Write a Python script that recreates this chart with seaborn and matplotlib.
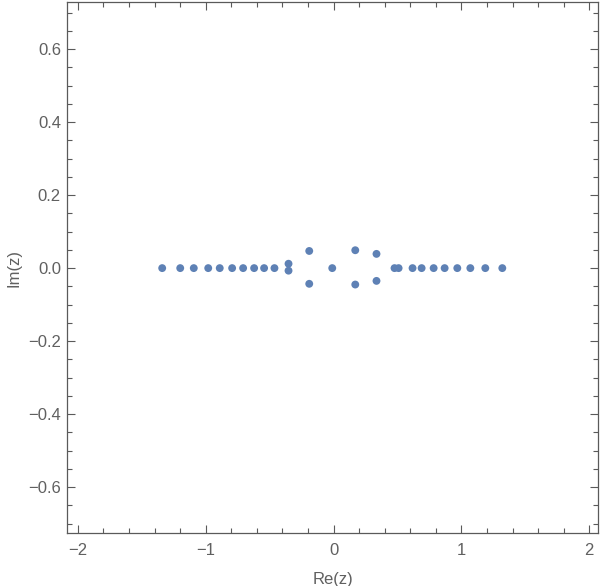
import matplotlib
matplotlib.use("Agg")
import matplotlib.pyplot as plt
import seaborn as sns
import pandas as pd
from matplotlib.ticker import MultipleLocator

# roots
re_vals = [-1.340, -1.199, -1.093, -0.980, -0.890, -0.793, -0.707, -0.621, -0.543, -0.462,
           -0.352, -0.352, -0.190, -0.190, -0.010,
           0.170, 0.170, 0.336, 0.336, 0.477, 0.509,
           0.618, 0.689, 0.783, 0.869, 0.968, 1.070, 1.187, 1.320]
im_vals = [0.0, 0.0, 0.0, 0.0, 0.0, 0.0, 0.0, 0.0, 0.0, 0.0,
           0.012, -0.007, 0.047, -0.043, 0.0,
           0.049, -0.045, 0.039, -0.035, 0.0, 0.0,
           0.0, 0.0, 0.0, 0.0, 0.0, 0.0, 0.0, 0.0]

x_ticks = [-2, -1, 0, 1, 2]
y_ticks = [-0.6, -0.4, -0.2, 0.0, 0.2, 0.4, 0.6]

df = pd.DataFrame({"re": re_vals, "im": im_vals})

sns.set_style("ticks")
plt.rcParams["font.family"] = ["Liberation Sans", "DejaVu Sans"]

frame_color = "#5a5a5a"
text_color = "#606060"

fig = plt.figure(figsize=(6, 5.86), dpi=100)
ax = fig.add_axes([0.112, 0.0904, 0.885, 0.906])

sns.scatterplot(data=df, x="re", y="im", ax=ax, color="#5e81b5", s=32,
                edgecolor="none", linewidth=0)

ax.set_xlim(-2.083, 2.07)
ax.set_ylim(-0.726, 0.729)
ax.set_xticks(x_ticks)
ax.set_xticklabels(["\u22122", "\u22121", "0", "1", "2"])
ax.set_yticks(y_ticks)
ax.set_yticklabels([("\u2212" if v < 0 else "") + f"{abs(v):.1f}" for v in y_ticks])
ax.xaxis.set_minor_locator(MultipleLocator(0.2))
ax.yaxis.set_minor_locator(MultipleLocator(0.05))

ax.tick_params(which="both", direction="in", top=True, right=True,
               color=frame_color, labelcolor=text_color, labelsize=12, width=0.8)
ax.tick_params(which="major", length=5.5)
ax.tick_params(which="minor", length=3.5)
ax.tick_params(axis="x", which="major", pad=7)
ax.tick_params(axis="y", which="major", pad=4.5)
for sp in ax.spines.values():
    sp.set_color(frame_color)
    sp.set_linewidth(0.9)

ax.set_xlabel("Re(z)", fontsize=12, color=text_color, labelpad=10)
ax.set_ylabel("Im(z)", fontsize=12, color=text_color, labelpad=5)

fig.savefig("out.png", dpi=100)
